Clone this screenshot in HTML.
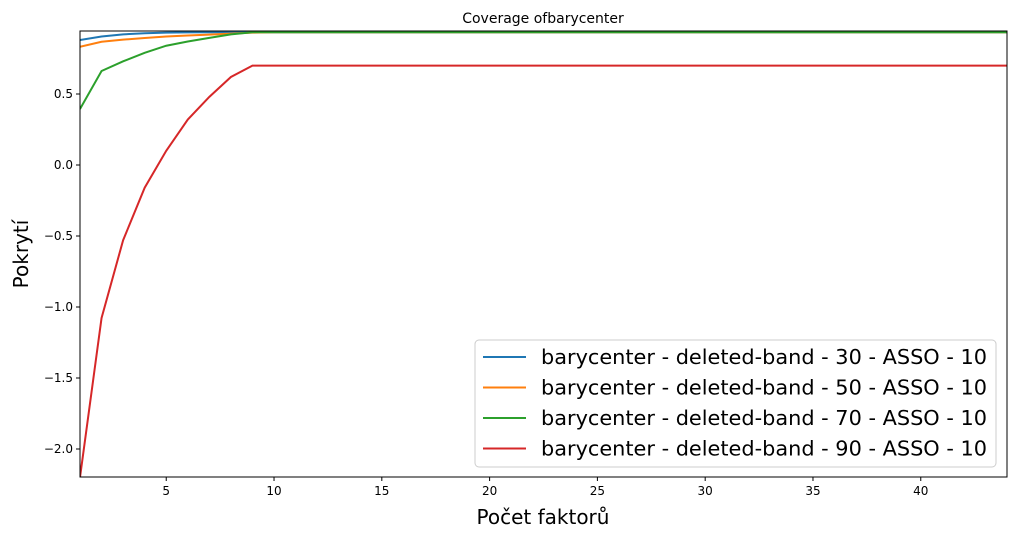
<!DOCTYPE html>
<html><head><meta charset="utf-8"><style>
body{margin:0;background:#fff;font-family:"DejaVu Sans",sans-serif}
svg{display:block;font-family:"DejaVu Sans",sans-serif}
</style></head><body>
<svg id="c" width="1016" height="537" xmlns="http://www.w3.org/2000/svg"></svg>
<script>
const xs = Array.from({length:44},(_,i)=>i+1);
const blue = [0.88,0.905,0.92,0.928,0.932,0.934,0.935,0.935,0.935];
const orange = [0.833,0.868,0.883,0.894,0.905,0.912,0.918,0.925,0.932,0.935];
const green = [0.394,0.662,0.73,0.79,0.84,0.87,0.895,0.92,0.935];
const red = [-2.2,-1.077,-0.53,-0.16,0.10,0.32,0.48,0.62,0.70];
const blueTail=0.935, orangeTail=0.935, greenTail=0.935, redTail=0.70;
const xTicks=[5,10,15,20,25,30,35,40];
const yTicks=[0.5,0.0,-0.5,-1.0,-1.5,-2.0];
const yLabels=["0.5","0.0","−0.5","−1.0","−1.5","−2.0"];
const names=["barycenter - deleted-band - 30 - ASSO - 10","barycenter - deleted-band - 50 - ASSO - 10","barycenter - deleted-band - 70 - ASSO - 10","barycenter - deleted-band - 90 - ASSO - 10"];
const colors=["#1f77b4","#ff7f0e","#2ca02c","#d62728"];
const L=80,R=1007,T=31,B=477;
const X=v=>L+(v-1)*(R-L)/43;
const Y=v=>165-v*142;
const svg=document.getElementById('c');
const NS="http://www.w3.org/2000/svg";
function mk(t,a,p){const e=document.createElementNS(NS,t);for(const k in a)e.setAttribute(k,a[k]);(p||svg).appendChild(e);return e;}
const clip=mk('clipPath',{id:'pc'});mk('rect',{x:L,y:T,width:R-L,height:B-T},clip);
const series=[[blue,blueTail],[orange,orangeTail],[green,greenTail],[red,redTail]];
series.forEach((s,i)=>{
 const vals=xs.map((x,j)=>j<s[0].length?s[0][j]:s[1]);
 const p=mk('polyline',{points:xs.map((x,j)=>X(x)+','+Y(vals[j])).join(' '),fill:'none',stroke:colors[i],'stroke-width':2,'clip-path':'url(#pc)'});
 
 
});
const frame=mk('rect',{x:L,y:T,width:R-L,height:B-T,fill:'none',stroke:'#000','stroke-width':1});


xTicks.forEach(t=>{
 mk('line',{x1:X(t),x2:X(t),y1:B,y2:B+4,stroke:'#000'});
 const e=mk('text',{x:X(t),y:B+18,'text-anchor':'middle','font-size':12});e.textContent=t;
 
 
});
yTicks.forEach((t,i)=>{
 mk('line',{x1:L-4,x2:L,y1:Y(t),y2:Y(t),stroke:'#000'});
 const e=mk('text',{x:L-7,y:Y(t)+4,'text-anchor':'end','font-size':12});e.textContent=yLabels[i];
 
 
});
let t=mk('text',{x:543,y:23,'text-anchor':'middle','font-size':14});t.textContent='Coverage ofbarycenter';

t=mk('text',{x:543,y:524,'text-anchor':'middle','font-size':20});t.textContent='Počet faktorů';

t=mk('text',{x:28,y:254,'text-anchor':'middle','font-size':20,transform:'rotate(-90 28 254)'});t.textContent='Pokrytí';

const lg=mk('g',{});

mk('rect',{x:475,y:340,width:521,height:127,rx:4,fill:'#fff','fill-opacity':0.8,stroke:'#ccc'},lg);
names.forEach((n,i)=>{
 const y=357+i*30.5;
 mk('line',{x1:483,x2:526,y1:y,y2:y,stroke:colors[i],'stroke-width':2},lg);
 const e=mk('text',{x:541,y:y+7,'font-size':20,textLength:446,lengthAdjust:'spacingAndGlyphs'},lg);e.textContent=n;
 
 
});
</script>
</body></html>
